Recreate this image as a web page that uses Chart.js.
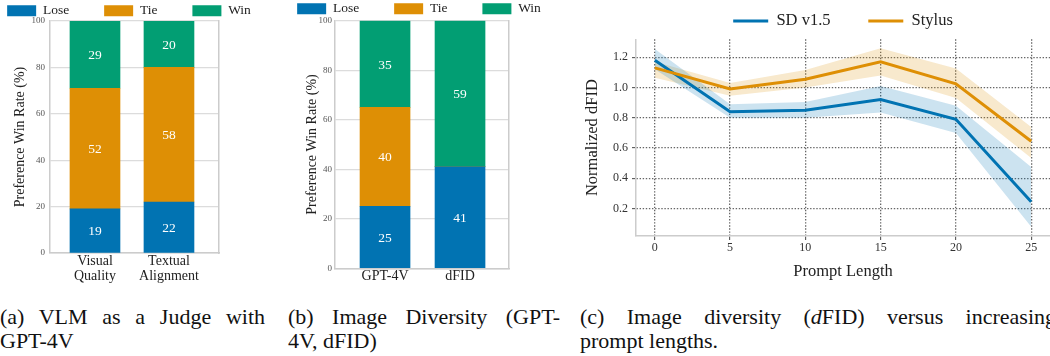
<!DOCTYPE html>
<html lang="en">
<head>
<meta charset="UTF-8">
<title>Stylus evaluation figures</title>
<script src="https://cdn.jsdelivr.net/npm/chart.js"></script>
<style>
  body { margin: 0; width: 1050px; height: 356px; overflow: hidden; position: relative; background: #fff;
         font-family: "Liberation Serif", "Times New Roman", serif; color: #111; }
  canvas { position: absolute; }
  #judgeChart { left: -36px; top: -31px; }
  #diversityChart { left: 254px; top: -33px; }
  #lengthChart { left: 575px; top: -25px; }
  .cap { position: absolute; top: 305px; font-size: 22px; line-height: 24px; }
  .cap .l1 { text-align: justify; text-align-last: justify; }
</style>
</head>
<body>
<canvas id="judgeChart" width="330" height="321"></canvas>
<canvas id="diversityChart" width="330" height="323"></canvas>
<canvas id="lengthChart" width="475" height="315"></canvas>

<div class="cap" style="left:0;width:265px"><div class="l1">(a) VLM as a Judge with</div><div>GPT-4V</div></div>
<div class="cap" style="left:288px;width:272px"><div class="l1">(b) Image Diversity (GPT-</div><div>4V, dFID)</div></div>
<div class="cap" style="left:580px;width:476px"><div class="l1">(c) Image diversity (<i>d</i>FID) versus increasing</div><div>prompt lengths.</div></div>

<script>
// ---- data ----
const outcomeNames = ['Lose', 'Tie', 'Win'];
const outcomeColors = ['#0173b2', '#de8f05', '#029e73'];
const winRateTicks = [0, 20, 40, 60, 80, 100];

const judgeCategories = [['Visual', 'Quality'], ['Textual', 'Alignment']];
const judgeLose = [19, 22];
const judgeTie = [52, 58];
const judgeWin = [29, 20];

const diversityCategories = ['GPT-4V', 'dFID'];
const diversityLose = [25, 41];
const diversityTie = [40, 0];
const diversityWin = [35, 59];

const promptLengths = [0, 5, 10, 15, 20, 25];
const sdMean = [1.18, 0.84, 0.85, 0.92, 0.79, 0.245];
const sdUpper = [1.255, 0.89, 0.905, 1.01, 0.88, 0.475];
const sdLower = [1.12, 0.80, 0.80, 0.835, 0.70, 0.08];
const stylusMean = [1.13, 0.99, 1.055, 1.17, 1.025, 0.645];
const stylusUpper = [1.17, 1.03, 1.115, 1.26, 1.125, 0.74];
const stylusLower = [1.065, 0.945, 1.0, 1.08, 0.93, 0.535];
const dfidTicks = [0.2, 0.4, 0.6, 0.8, 1.0, 1.2];

const SERIF = '"Liberation Serif", "Times New Roman", serif';
const f = size => ({ family: SERIF, size: size });
Chart.defaults.font.family = SERIF;

// white numbers in the middle of each stacked segment
const barLabels = {
  id: 'barLabels',
  afterDatasetsDraw(chart) {
    const ctx = chart.ctx;
    ctx.save();
    ctx.font = '13.5px ' + SERIF;
    ctx.fillStyle = '#fff';
    ctx.textAlign = 'center';
    ctx.textBaseline = 'middle';
    chart.data.datasets.forEach((ds, i) => {
      chart.getDatasetMeta(i).data.forEach((bar, j) => {
        const v = ds.data[j].y;
        if (!v) return;
        ctx.fillText(v, bar.x, (bar.y + bar.base) / 2 + 1);
      });
    });
    ctx.restore();
  }
};

function stackedBars(id, cats, series, o) {
  new Chart(document.getElementById(id), {
    type: 'bar',
    data: {
      datasets: series.map((vals, k) => ({
        label: outcomeNames[k],
        data: vals.map((v, i) => ({ x: i, y: v })),
        backgroundColor: outcomeColors[k],
        borderWidth: 0,
        barThickness: 50
      }))
    },
    options: {
      responsive: false,
      animation: false,
      events: [],
      plugins: {
        legend: {
          maxHeight: o.legendH,
          labels: { boxWidth: 29, boxHeight: 11, padding: 35, color: '#222', font: f(13.5) }
        },
        tooltip: { enabled: false }
      },
      scales: {
        x: {
          type: 'linear', stacked: true, offset: false, min: o.xMin, max: o.xMax,
          afterBuildTicks: s => { s.ticks = cats.map((c, i) => ({ value: i })); },
          afterFit: s => { s.height = o.xH; },
          ticks: { callback: (v, i) => cats[i], color: '#222', font: { family: SERIF, size: 14, lineHeight: 1.07 },
                   padding: 1, maxRotation: 0, autoSkip: false },
          grid: { display: false, drawTicks: false },
          border: { color: '#ccc', width: 1.5 }
        },
        y: {
          stacked: true, min: 0, max: 100,
          afterBuildTicks: s => { s.ticks = winRateTicks.map(v => ({ value: v })); },
          afterFit: s => { s.width = o.yW; },
          ticks: { color: '#555', font: f(9), padding: o.tickPad },
          grid: { color: '#dcdcdc', lineWidth: 1.2, drawTicks: false },
          border: { color: '#ccc', width: 1.5 },
          title: { display: true, text: 'Preference Win Rate (%)', color: '#222', font: f(14),
                   padding: { top: o.titlePad, bottom: 0 } }
        },
        frame: {
          type: 'linear', position: 'right',
          afterFit: s => { s.width = o.rightW; },
          ticks: { display: false },
          grid: { display: false, drawTicks: false },
          border: { color: '#ccc', width: 1.5 }
        }
      }
    },
    plugins: [barLabels]
  });
}

stackedBars('judgeChart', judgeCategories, [judgeLose, judgeTie, judgeWin],
  { legendH: 52, xH: 37, yW: 86, rightW: 75, titlePad: 47.6, tickPad: 5, xMin: -0.608, xMax: 1.676 });
stackedBars('diversityChart', diversityCategories, [diversityLose, diversityTie, diversityWin],
  { legendH: 53.7, xH: 21.7, yW: 81, rightW: 75, titlePad: 49.6, tickPad: 3, xMin: -0.667, xMax: 1.653 });

// ---- dFID vs prompt length ----
const pts = arr => arr.map((v, i) => ({ x: promptLengths[i], y: v }));
const dotted = { color: '#666', lineWidth: 1.3, tickLength: 4, tickColor: '#444', tickWidth: 1 };

new Chart(document.getElementById('lengthChart'), {
  type: 'line',
  data: {
    datasets: [
      { label: 'SD v1.5', data: pts(sdMean), borderColor: '#0173b2', backgroundColor: '#0173b2',
        borderWidth: 3, pointRadius: 0, tension: 0, order: 1 },
      { label: 'Stylus', data: pts(stylusMean), borderColor: '#de8f05', backgroundColor: '#de8f05',
        borderWidth: 3, pointRadius: 0, tension: 0, order: 0 },
      { label: 'sd-upper', data: pts(sdUpper), borderWidth: 0, pointRadius: 0, fill: '+1',
        backgroundColor: 'rgba(1,115,178,0.2)', order: 2 },
      { label: 'sd-lower', data: pts(sdLower), borderWidth: 0, pointRadius: 0, fill: false, order: 2 },
      { label: 'stylus-upper', data: pts(stylusUpper), borderWidth: 0, pointRadius: 0, fill: '+1',
        backgroundColor: 'rgba(222,143,5,0.2)', order: 2 },
      { label: 'stylus-lower', data: pts(stylusLower), borderWidth: 0, pointRadius: 0, fill: false, order: 2 }
    ]
  },
  options: {
    responsive: false,
    animation: false,
    events: [],
    plugins: {
      legend: {
        fullSize: false,
        maxHeight: 64.3,
        labels: {
          boxWidth: 35, boxHeight: 3, padding: 37.75, color: '#222', font: f(16.5),
          filter: item => item.datasetIndex < 2,
          sort: (a, b) => a.datasetIndex - b.datasetIndex,
          generateLabels: chart => Chart.defaults.plugins.legend.labels.generateLabels(chart)
            .map(it => ({ ...it, lineWidth: 0 }))
        }
      },
      tooltip: { enabled: false }
    },
    scales: {
      x: {
        type: 'linear', min: -1.25, max: 26.25,
        afterBuildTicks: s => { s.ticks = promptLengths.map(v => ({ value: v })); },
        afterFit: s => { s.height = 54; },
        ticks: { color: '#333', font: f(12), padding: 1, maxRotation: 0, autoSkip: false },
        grid: dotted,
        border: { color: '#ccc', width: 1.5, dash: [1.4, 1.7] },
        title: { display: true, text: 'Prompt Length', color: '#222', font: f(16.5),
                 padding: { top: 0, bottom: 8 } }
      },
      y: {
        min: 0.019, max: 1.319,
        afterBuildTicks: s => { s.ticks = dfidTicks.map(v => ({ value: v })); },
        afterFit: s => { s.width = 61; },
        ticks: { color: '#333', font: f(12), padding: 4, callback: v => v.toFixed(1) },
        grid: dotted,
        border: { color: '#ccc', width: 1.5, dash: [1.4, 1.7] },
        title: { display: true, text: 'Normalized dFID', color: '#222', font: f(16.5),
                 padding: { top: 8.1, bottom: 0 } }
      }
    }
  }
});
</script>
</body>
</html>
